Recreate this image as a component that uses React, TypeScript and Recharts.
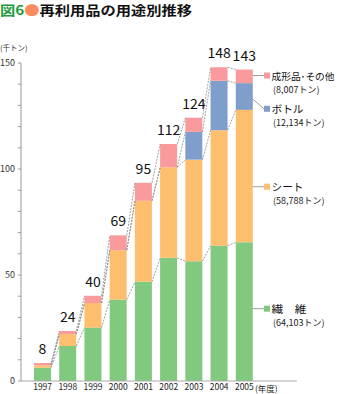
import React from 'react';
import { ComposedChart, Bar, Line, XAxis, YAxis, LabelList } from 'recharts';

const years = ['1997', '1998', '1999', '2000', '2001', '2002', '2003', '2004', '2005'];
const fiber = [6.3, 16.5, 25.2, 38.4, 46.8, 58.1, 56.5, 63.8, 65.4];
const sheet = [1.1, 5.6, 11.6, 23.3, 38.2, 42.7, 47.9, 54.5, 62.5];
const bottle = [0, 0, 0, 0, 0, 0, 13.1, 23.3, 12.6];
const other = [1.1, 1.5, 3.4, 7.0, 8.5, 11.0, 6.7, 6.4, 6.4];
const totalLabels = [8, 24, 40, 69, 95, 112, 124, 148, 143];
const yTicks = [0, 10, 20, 30, 40, 50, 60, 70, 80, 90, 100, 110, 120, 130, 140, 150];

const legendNames = ['成形品･その他', 'ボトル', 'シート', '繊　維'];
const legendAmounts = ['(8,007トン)', '(12,134トン)', '(58,788トン)', '(64,103トン)'];

const COLORS = { fiber: '#80c97e', sheet: '#fdbe6e', bottle: '#7f9ecb', other: '#f99a9c' };
const legendColors = [COLORS.other, COLORS.bottle, COLORS.sheet, COLORS.fiber];
const legendY = [75.5, 108.8, 186.7, 308.7];
const leaderStartY = [75.5, 99, 186.7, 308.7];
const legendNameWidth = [63, 32, 32, 35];
const legendNameSize = [9.6, 10.5, 10.5, 10.5];

const FONT = '"Noto Sans CJK JP", "Noto Sans", sans-serif';

const data = years.map((y, i) => ({
  year: y,
  fiber: fiber[i],
  sheet: sheet[i],
  bottle: bottle[i],
  other: other[i],
  label: totalLabels[i],
}));

const lv1 = fiber;
const lv2 = fiber.map((v, i) => v + sheet[i]);
const lv3 = lv2.map((v, i) => v + bottle[i]);
const lv4 = lv3.map((v, i) => v + other[i]);

const H = 0.337;
function connectors(lv: number[]) {
  const out: { x: number; y: number | null }[] = [];
  for (let i = 0; i < lv.length - 1; i++) {
    out.push({ x: i + H, y: lv[i] });
    out.push({ x: i + 1 - H, y: lv[i + 1] });
    out.push({ x: i + 1, y: null });
  }
  return out;
}
const connectorSets = [lv1, lv2, lv3, lv4].map(connectors);

const PAD = { left: 9, right: 40 };

export default function App() {
  return (
    <div style={{ position: 'absolute', left: 0, top: 0, width: 337, height: 394, background: '#fff', fontFamily: FONT }}>
      <ComposedChart
        width={337}
        height={394}
        data={data}
        margin={{ top: 63, right: 40, bottom: 0, left: 0 }}
      >
        <XAxis
          dataKey="year"
          padding={PAD}
          height={13}
          tickLine={false}
          tickSize={0}
          tickMargin={3}
          axisLine={{ stroke: '#aaa' }}
          tick={{ fontSize: 8.5, fill: '#222', fontFamily: FONT }}
          interval={0}
        />
        <XAxis xAxisId="n" type="number" dataKey="x" domain={[-0.5, 8.5]} padding={PAD} hide allowDataOverflow />
        <YAxis
          width={21}
          domain={[0, 150]}
          ticks={yTicks}
          interval={0}
          tickSize={3}
          tickMargin={3}
          axisLine={{ stroke: '#999' }}
          tickLine={{ stroke: '#999' }}
          tickFormatter={(v: number) => (v % 50 === 0 ? String(v) : '')}
          tick={{ fontSize: 9, fill: '#333', fontFamily: FONT }}
        />
        {connectorSets.map((set, k) => (
          <Line
            key={k}
            xAxisId="n"
            data={set}
            dataKey="y"
            stroke="#888"
            strokeWidth={0.8}
            strokeDasharray="2 1.2"
            dot={false}
            activeDot={false}
            connectNulls={false}
            isAnimationActive={false}
            type="linear"
          />
        ))}
        <Bar dataKey="fiber" stackId="a" fill={COLORS.fiber} barSize={17} isAnimationActive={false} />
        <Bar dataKey="sheet" stackId="a" fill={COLORS.sheet} barSize={17} isAnimationActive={false} />
        <Bar dataKey="bottle" stackId="a" fill={COLORS.bottle} barSize={17} isAnimationActive={false} />
        <Bar dataKey="other" stackId="a" fill={COLORS.other} barSize={17} isAnimationActive={false}>
          <LabelList dataKey="label" position="top" offset={9} style={{ fontSize: 14, fill: '#111', fontFamily: FONT }} />
        </Bar>
      </ComposedChart>
      <svg width={337} height={394} style={{ position: 'absolute', left: 0, top: 0, pointerEvents: 'none' }}>
        <text x={0} y={15} fontSize={13} fontWeight={700} fontFamily={FONT} textLength={192} lengthAdjust="spacingAndGlyphs">
          <tspan fill="#229a3c">図6</tspan>
          <tspan fill="#f98b5e">●</tspan>
          <tspan fill="#111">再利用品の用途別推移</tspan>
        </text>
        <text x={0} y={47} dominantBaseline="central" fontSize={7.5} fill="#333" fontFamily={FONT}>(千トン)</text>
        <text x={255} y={388} dominantBaseline="central" fontSize={8.5} fill="#222" fontFamily={FONT}>(年度)</text>
        {legendNames.map((name, i) => (
          <g key={name}>
            <line x1={252.7} y1={leaderStartY[i]} x2={264} y2={legendY[i]} stroke="#888" strokeWidth={0.8} />
            <rect x={264} y={legendY[i] - 3} width={6} height={6} fill={legendColors[i]} />
            <text
              x={271.5}
              y={legendY[i]}
              dominantBaseline="central"
              fontSize={legendNameSize[i]}
              fill="#111"
              fontFamily={FONT}
              textLength={legendNameWidth[i]}
              lengthAdjust="spacingAndGlyphs"
            >
              {name}
            </text>
            <text x={273} y={legendY[i] + 13.5} dominantBaseline="central" fontSize={9} fill="#222" fontFamily={FONT}>{legendAmounts[i]}</text>
          </g>
        ))}
      </svg>
    </div>
  );
}
